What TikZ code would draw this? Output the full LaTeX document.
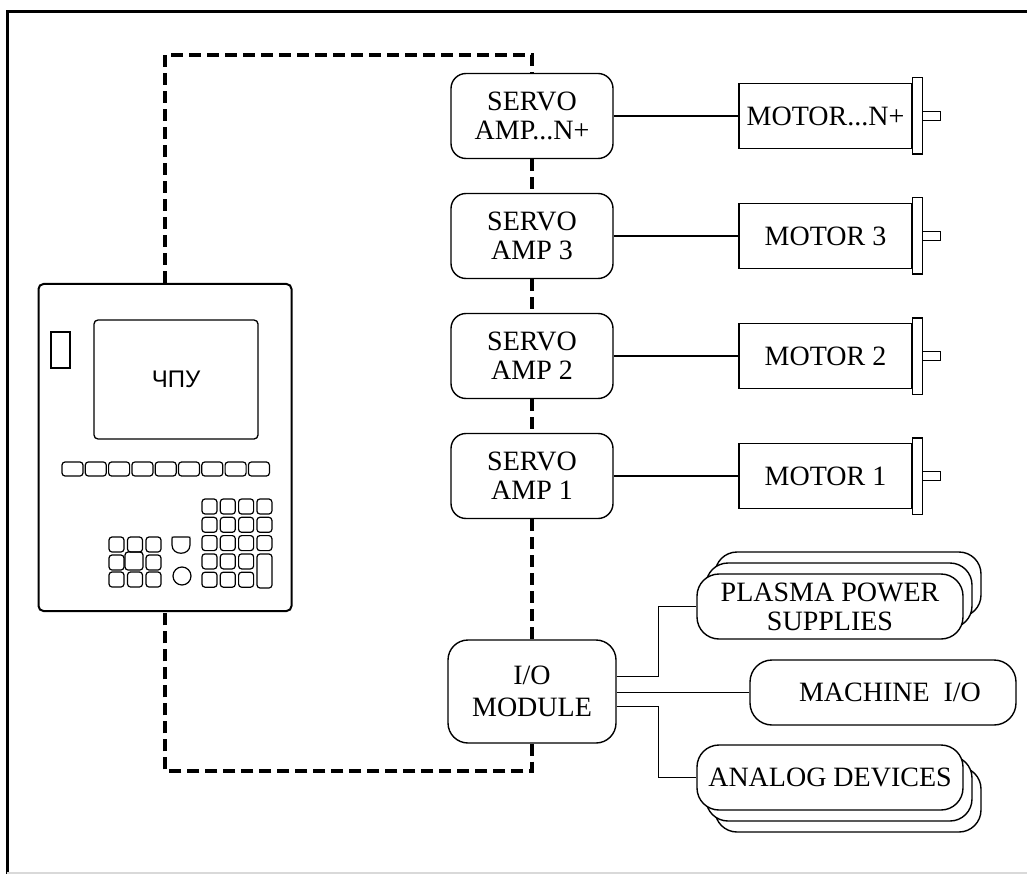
\documentclass[tikz,border=0pt]{standalone}
\usepackage{fontspec}
\setmainfont{Liberation Serif}
\newfontfamily\panelfont{Liberation Sans}
\newcommand{\threedots}{...}

\begin{document}
\begin{tikzpicture}[x = 1pt, y = -1pt,
        txt/.style = {align = center, inner sep = 0pt, font = \fontsize{28}{29}\selectfont},
        ampbox/.style = {txt, draw, line width = 1.4pt, rounded corners = 15pt, fill = white,
            minimum width = 162pt, minimum height = 85pt},
        motorbox/.style = {txt, draw, line width = 1.4pt, minimum width = 173pt, minimum height = 65pt},
        cardbox/.style = {txt, draw, line width = 1.4pt, rounded corners = 22pt, fill = white,
            minimum width = 266pt, minimum height = 65pt},
        cardback/.style = {draw, line width = 1.4pt, rounded corners = 22pt, fill = white},
        bus/.style = {line width = 4pt, dash pattern = on 12pt off 6pt},
        wire/.style = {line width = 1.4pt},
        key/.style = {line width = 1.2pt, rounded corners = 3pt}]

    \useasboundingbox (0, 0) rectangle (1027, 874);
    \draw[line width = 3pt] (1027, 12) -- (7, 12) -- (7, 874);
    \draw[black!15, line width = 2pt] (7, 873) -- (1027, 873);

    % control panel
    \node[draw, line width = 2pt, rounded corners = 5pt, minimum width = 253pt, minimum height = 327pt] (cnc) at (165, 447.5) {};
    \node[draw, line width = 1.3pt, rounded corners = 4pt, minimum width = 164pt, minimum height = 119pt,
        font = \panelfont\fontsize{24}{26}\selectfont] (screen) at (176, 379.5) {ЧПУ};
    \draw[line width = 1.2pt] (51, 332) rectangle (70, 368);
    \foreach \i in {0,...,8}
        \draw[key] ({62 + 23.3*\i}, 462) rectangle ++(21, 14);
    \foreach \r in {0,1,2}
        \foreach \c in {0,...,3}
            \draw[key] ({202 + 18.3*\c}, {499 + 18.3*\r}) rectangle ++(15, 15);
    \foreach \r in {3,4}
        \foreach \c in {0,1,2}
            \draw[key] ({202 + 18.3*\c}, {499 + 18.3*\r}) rectangle ++(15, 15);
    \draw[key] (257, 554) rectangle (272, 588);
    \foreach \r in {0,2}
        \foreach \c in {0,1,2}
            \draw[key] ({109 + 18.5*\c}, {537 + 17.5*\r}) rectangle ++(15, 15);
    \draw[key] (109, 555) rectangle ++(15, 15);
    \draw[key] (146, 555) rectangle ++(15, 15);
    \draw[key] (125, 552) rectangle (143, 570);
    \draw[line width = 1.2pt] (172, 545) -- (172, 539) .. controls (172, 537) .. (174, 537) -- (188, 537)
        .. controls (190, 537) .. (190, 539) -- (190, 545) .. controls (190, 556) and (172, 556) .. cycle;
    \draw[line width = 1.2pt] (182, 576) circle (9);

    % servo amplifiers and motors
    \foreach \n/\y/\lbl in {4/116/AMP\threedots N+, 3/236/AMP 3, 2/356/AMP 2, 1/476/AMP 1} {
        \node[ampbox] (s\n) at (532, \y) {SERVO\\\lbl};
    }
    \foreach \n/\y/\lbl in {4/116/MOTOR\threedots N+, 3/236/MOTOR 3, 2/356/MOTOR 2, 1/476/MOTOR 1} {
        \node[motorbox] (m\n) at (825.5, \y) {\lbl};
        \draw[line width = 1.4pt] ([yshift = 5pt]m\n.north east) rectangle ([xshift = 10pt, yshift = -5pt]m\n.south east);
        \draw[line width = 1.4pt] ([xshift = 10pt, yshift = 4.5pt]m\n.east) rectangle ([xshift = 28pt, yshift = -4.5pt]m\n.east);
        \draw[wire] (s\n) -- (m\n);
    }

    % input / output side
    \node[ampbox, minimum width = 168pt, minimum height = 103pt, rounded corners = 20pt,
        font = \fontsize{28}{32}\selectfont] (io) at (532, 691.5) {I/O\\MODULE};

    \foreach \d in {2,1}
        \draw[cardback] ({697 + 9*\d}, {574 - 11*\d}) rectangle ++(266, 65);
    \node[cardbox] (plasma) at (830, 606.5) {PLASMA POWER\\SUPPLIES};
    \node[cardbox] (machine) at (883, 692.5) {\ \ MACHINE\ \ I/O};
    \foreach \d in {2,1}
        \draw[cardback] ({697 + 9*\d}, {745 + 11*\d}) rectangle ++(266, 65);
    \node[cardbox] (analog) at (830, 777.5) {ANALOG DEVICES};

    \draw[wire] ([yshift = 15pt]io.east) -- ++(42, 0) |- (plasma.west);
    \draw[wire] (io.east |- machine.west) -- (machine.west);
    \draw[wire] ([yshift = -15pt]io.east) -- ++(42, 0) |- (analog.west);

    % dashed bus
    \coordinate (tl) at (165, 55);
    \coordinate (tr) at (532, 55);
    \coordinate (bl) at (165, 771);
    \coordinate (br) at (532, 771);
    \draw[bus] (cnc.north) -- (tl) -- (tr) -- (s4.north);
    \draw[bus] (s4.south) -- (s3.north);
    \draw[bus] (s3.south) -- (s2.north);
    \draw[bus] (s2.south) -- (s1.north);
    \draw[bus] (s1.south) -- (io.north);
    \draw[bus] (io.south) -- (br) -- (bl) -- (cnc.south);

\end{tikzpicture}
\end{document}
